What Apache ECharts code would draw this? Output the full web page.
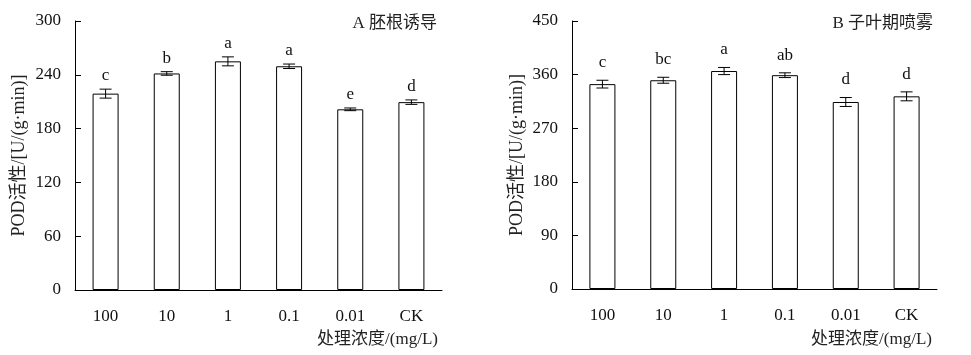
<!DOCTYPE html>
<html><head><meta charset="utf-8">
<script src="https://cdn.jsdelivr.net/npm/echarts@6/dist/echarts.min.js"></script>
<style>html,body{margin:0;padding:0;background:#fff}#c{width:971px;height:355px}</style>
</head><body><div id="c"></div>
<script>
const categories = ['100', '10', '1', '0.1', '0.01', 'CK'];
const valuesA = [219, 241.5, 255, 249.5, 201.5, 209.5];
const errorsA = [5, 2, 5, 2.5, 1.5, 2.5];
const lettersA = ['c', 'b', 'a', 'a', 'e', 'd'];
const valuesB = [344, 350.5, 366, 359, 314, 323.5];
const errorsB = [6.5, 5, 6, 4, 7.5, 7.5];
const lettersB = ['c', 'bc', 'a', 'ab', 'd', 'd'];
const yTicksA = { min: 0, max: 300, interval: 60 };
const yTicksB = { min: 0, max: 450, interval: 90 };
const titleA = 'A 胚根诱导';
const titleB = 'B 子叶期喷雾';
const xName = '处理浓度/(mg/L)';
const yName = 'POD活性/[U/(g·min)]';

const FONT = '"Liberation Serif", "Noto Sans CJK SC", serif';
const FS = 17;
const chart = echarts.init(document.getElementById('c'), null, { renderer: 'canvas' });

function errSeries(idx, values, errors, letters, gap) {
  return {
    type: 'custom', xAxisIndex: idx, yAxisIndex: idx, z: 5,
    data: values.map((v, i) => [i, v, errors[i]]),
    renderItem: function (params, api) {
      const x = api.value(0), v = api.value(1), e = api.value(2);
      const t = api.coord([x, v + e]);
      const b = api.coord([x, v - e]);
      const hw = 6;
      const ls = { stroke: '#000', lineWidth: 1 };
      return {
        type: 'group',
        children: [
          { type: 'line', shape: { x1: t[0], y1: t[1], x2: b[0], y2: b[1] }, style: ls },
          { type: 'line', shape: { x1: t[0] - hw, y1: t[1], x2: t[0] + hw, y2: t[1] }, style: ls },
          { type: 'line', shape: { x1: b[0] - hw, y1: b[1], x2: b[0] + hw, y2: b[1] }, style: ls },
          { type: 'text', style: { text: letters[params.dataIndex], x: t[0], y: t[1] - gap,
              align: 'center', verticalAlign: 'bottom', fill: '#111',
              font: FS + 'px ' + FONT } }
        ]
      };
    }
  };
}

function xAx(idx) {
  return {
    type: 'category', gridIndex: idx, data: categories,
    axisLine: { lineStyle: { color: '#000', width: 1 } },
    axisTick: { inside: true, length: 5, lineStyle: { color: '#000' } },
    axisLabel: { margin: 18, color: '#111', fontFamily: FONT, fontSize: FS },
    splitLine: { show: false }
  };
}
function yAx(idx, t, gap) {
  return {
    type: 'value', gridIndex: idx, min: t.min, max: t.max, interval: t.interval,
    name: yName, nameLocation: 'middle', nameGap: gap, nameRotate: 90,
    nameTextStyle: { color: '#222', fontFamily: FONT, fontSize: 18 },
    axisLine: { show: true, lineStyle: { color: '#000', width: 1 } },
    axisTick: { show: true, inside: true, length: 6, lineStyle: { color: '#000' } },
    axisLabel: { margin: 14, color: '#111', fontFamily: FONT, fontSize: FS },
    splitLine: { show: false }
  };
}
function barSeries(idx, values) {
  return {
    type: 'bar', xAxisIndex: idx, yAxisIndex: idx, data: values, barWidth: 26,
    itemStyle: { color: '#fff', borderColor: '#000', borderWidth: 1 },
    emphasis: { disabled: true }, animation: false
  };
}
const ts = { color: '#222', fontFamily: FONT, fontSize: FS, fontWeight: 'normal' };
chart.setOption({
  animation: false,
  backgroundColor: '#fff',
  title: [
    { text: titleA, right: 534, top: 15, padding: 0, textStyle: ts },
    { text: titleB, right: 38, top: 15, padding: 0, textStyle: ts },
    { text: xName, right: 533, top: 331, padding: 0, textStyle: ts },
    { text: xName, right: 39, top: 331, padding: 0, textStyle: ts }
  ],
  grid: [
    { left: 75, top: 21, width: 367, height: 269 },
    { left: 572, top: 21, width: 365, height: 268 }
  ],
  xAxis: [xAx(0), xAx(1)],
  yAxis: [yAx(0, yTicksA, 47), yAx(1, yTicksB, 46)],
  series: [
    barSeries(0, valuesA), errSeries(0, valuesA, errorsA, lettersA, 5),
    barSeries(1, valuesB), errSeries(1, valuesB, errorsB, lettersB, 9)
  ]
});
</script></body></html>
